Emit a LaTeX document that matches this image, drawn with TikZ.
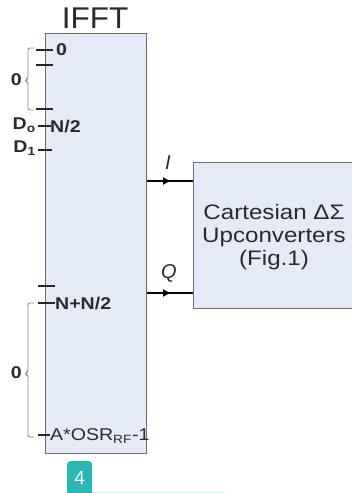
\documentclass[tikz,border=0pt]{standalone}
\usepackage{fontspec}
\setmainfont{Liberation Sans}
\usetikzlibrary{arrows.meta,decorations.markings}
\definecolor{boxfill}{HTML}{E4EBF6}
\definecolor{boxline}{HTML}{6E6E6E}
\definecolor{txt}{HTML}{2A2A2A}
\definecolor{brk}{HTML}{8A8A8A}
\definecolor{teal4}{HTML}{2DB6B6}
\definecolor{teallight}{HTML}{CDEFEF}
\newcommand{\wide}[1]{\scalebox{1.15}[1]{#1}}
\tikzset{
  blockbox/.style={draw=boxline, fill=boxfill, line width=1.2pt},
  tick/.style={draw=black!85, line width=1.5pt},
  lbl/.style={text=txt, font=\fontsize{17}{17}\selectfont\bfseries, inner sep=0pt},
  lblr/.style={text=txt, font=\fontsize{17}{17}\selectfont, inner sep=0pt},
  brace/.style={draw=brk, line width=0.9pt, rounded corners=2pt},
  sig/.style={draw=black, line width=1.2pt, postaction={decorate},
    decoration={markings, mark=at position 0.52 with {\arrow{Latex[length=8pt,width=8pt]}}}},
}
\begin{document}
\begin{tikzpicture}[x=1pt,y=-1pt]
\useasboundingbox (0,0) rectangle (352,493);
% IFFT block
\node[blockbox, minimum width=101pt, minimum height=420pt, inner sep=0pt, anchor=north west] (ifft) at (45,33) {};
\node[text=txt, font=\fontsize{30}{30}\selectfont, anchor=base] (title) at (95,28) {\scalebox{1.05}[1]{IFFT}};
% upconverter block
\node[blockbox, minimum width=162pt, minimum height=146pt, inner sep=0pt, anchor=north west] (uc) at (193,162) {};
\node[text=txt, font=\fontsize{21}{23}\selectfont, align=center, anchor=center] (uctext) at (274,237)
  {\wide{Cartesian ΔΣ}\\\wide{Upconverters}\\\wide{(Fig.1)}};
% signals
\coordinate (iS) at (ifft.east |- 0,181);
\coordinate (qS) at (ifft.east |- 0,293);
\draw[sig] (iS) -- (uc.west |- iS);
\draw[sig] (qS) -- (uc.west |- qS);
\node[text=txt, font=\fontsize{20}{20}\selectfont\itshape] (ilab) at (168,163) {I};
\node[text=txt, font=\fontsize{20}{20}\selectfont\itshape] (qlab) at (169,273) {Q};
% ticks top group
\coordinate (a0) at (36,50); \coordinate (b0) at (53,50);
\coordinate (a1) at (36,65); \coordinate (b1) at (53,65);
\coordinate (a2) at (36,109); \coordinate (b2) at (53,109);
\coordinate (a3) at (38,126); \coordinate (b3) at (51,126);
\coordinate (a4) at (38,150); \coordinate (b4) at (52,150);
\draw[tick] (a0) -- (b0);
\draw[tick] (a1) -- (b1);
\draw[tick] (a2) -- (b2);
\draw[tick] (a3) -- (b3);
\draw[tick] (a4) -- (b4);
\node[lbl, anchor=west] (l0) at (56,50) {\wide{0}};
\node[lbl, anchor=west] (lN2) at (50,127) {\wide{N/2}};
\node[lbl, anchor=east] (lD0) at (36,125) {\wide{D\textsubscript{o}}};
\node[lbl, anchor=east] (lD1) at (36,148) {\wide{D\textsubscript{1}}};
% ticks bottom group
\coordinate (a5) at (38,286); \coordinate (b5) at (55,286);
\coordinate (a6) at (38,303); \coordinate (b6) at (55,303);
\coordinate (a7) at (38,435); \coordinate (b7) at (50,435);
\draw[tick] (a5) -- (b5);
\draw[tick] (a6) -- (b6);
\draw[tick] (a7) -- (b7);
\node[lbl, anchor=west] (lNN) at (55,304) {\wide{N+N/2}};
\node[lblr, anchor=west] (lA) at (50,436) {\wide{A*OSR\textsubscript{RF}-1}};
% braces
\draw[brace] (34,48) -- (28,48) -- (28,79) -- (25,80.5) -- (28,82) -- (28,110) -- (34,110);
\draw[brace] (34,303) -- (28,303) -- (28,372) -- (25,373.5) -- (28,375) -- (28,437) -- (34,437);
\node[lbl, anchor=east] (z1) at (22,80) {\wide{0}};
\node[lbl, anchor=east] (z2) at (22,373) {\wide{0}};
% page badge
\node[fill=teal4, text=white, rounded corners=3pt, minimum width=25pt, minimum height=34pt, inner sep=0pt,
  font=\fontsize{19}{19}\selectfont, anchor=north west] (badge) at (67,461) {4};
\fill[teallight] (badge.south east) ++(0,-3) rectangle (225,493);
\end{tikzpicture}
\end{document}
